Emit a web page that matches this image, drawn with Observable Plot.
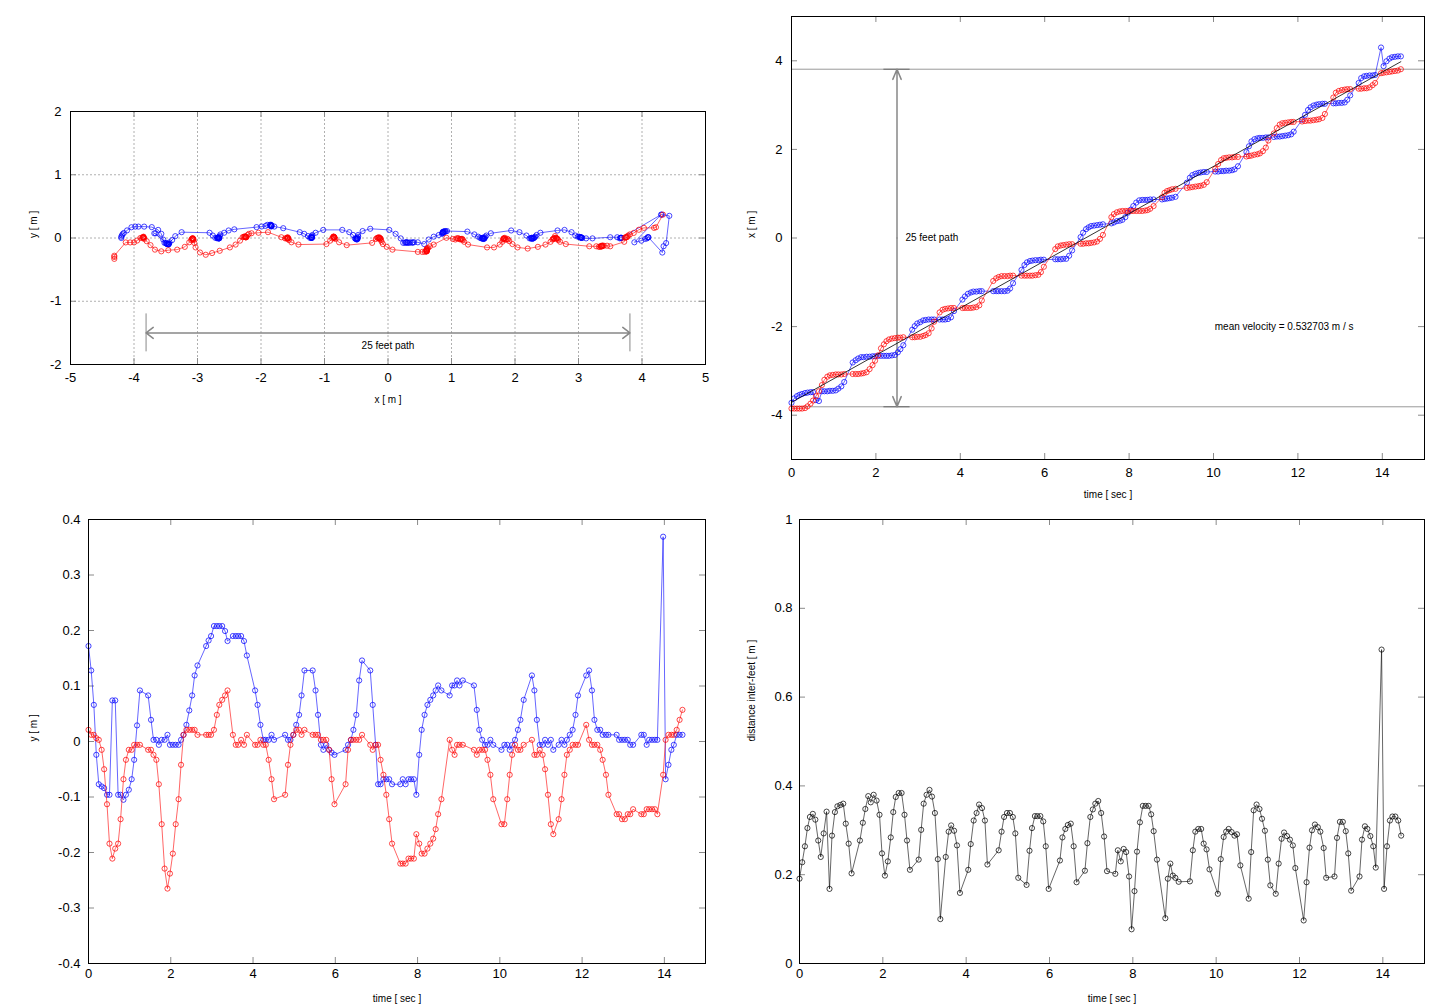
<!DOCTYPE html>
<html><head><meta charset="utf-8">
<script src="https://cdn.jsdelivr.net/npm/d3@7"></script>
<script src="https://cdn.jsdelivr.net/npm/@observablehq/plot@0.6"></script>
<style>
body{margin:0;background:#fff;}
#root{position:relative;width:1440px;height:1008px;overflow:hidden;background:#fff;}
#root svg{position:absolute;overflow:visible;}
</style></head><body><div id="root"></div>
<script>
// ---- frame times [sec] ----
const T = [0.00,0.065,0.13,0.19,0.25,0.32,0.38,0.45,0.51,0.58,0.65,0.72,0.78,0.85,0.91,0.98,1.05,1.11,1.18,1.25,
1.45,1.52,1.58,1.65,1.71,1.78,1.85,1.92,1.98,2.05,2.12,2.19,2.25,2.31,2.38,2.45,2.52,2.58,2.65,
2.86,2.92,2.98,3.05,3.12,3.18,3.25,3.32,3.38,
3.51,3.58,3.64,3.71,3.78,3.85,
4.05,4.11,4.18,4.25,4.31,4.38,4.45,4.51,
4.78,4.85,4.91,4.98,5.05,5.12,5.18,5.25,
5.45,5.52,5.58,5.65,5.71,5.78,5.85,5.91,5.98,
6.25,6.31,6.38,6.44,6.51,6.58,6.65,
6.85,6.91,6.98,7.04,7.10,7.17,7.24,7.31,7.38,
7.58,7.64,7.71,7.78,7.84,7.91,7.97,8.04,8.10,8.17,8.24,8.31,8.38,8.44,8.50,8.58,
8.78,8.84,8.90,8.96,9.02,9.10,
9.37,9.44,9.50,9.57,9.64,9.70,9.77,9.84,
10.04,10.11,10.18,10.24,10.30,10.37,10.44,10.50,10.58,
10.78,10.84,10.90,10.97,11.04,11.10,11.17,11.24,11.30,
11.43,11.50,11.57,11.63,11.70,11.77,11.84,11.90,
12.10,12.17,12.24,12.30,12.37,12.44,12.50,12.58,12.64,
12.84,12.90,12.97,13.04,13.11,13.17,13.24,
13.44,13.50,13.57,13.63,13.70,13.77,13.83,
13.97,14.03,14.10,14.17,14.23,14.30,14.37,14.44];

// ---- x position [m] of each foot ----
const xBlue = [-3.72,-3.62,-3.57,-3.54,-3.52,-3.50,-3.49,-3.48,-3.48,-3.66,-3.68,-3.46,-3.46,-3.46,-3.45,-3.45,-3.44,-3.40,-3.35,-3.25,
-2.81,-2.76,-2.72,-2.69,-2.69,-2.68,-2.68,-2.67,-2.67,-2.66,-2.66,-2.66,-2.66,-2.66,-2.65,-2.64,-2.58,-2.51,-2.42,
-2.07,-1.99,-1.93,-1.90,-1.86,-1.85,-1.84,-1.84,-1.84,
-1.84,-1.84,-1.84,-1.83,-1.79,-1.65,
-1.39,-1.32,-1.26,-1.23,-1.21,-1.21,-1.20,-1.20,
-1.20,-1.20,-1.20,-1.20,-1.20,-1.19,-1.14,-1.02,
-0.72,-0.61,-0.55,-0.52,-0.51,-0.50,-0.50,-0.49,-0.49,
-0.48,-0.48,-0.48,-0.47,-0.47,-0.40,-0.28,
0.02,0.12,0.20,0.24,0.27,0.28,0.29,0.30,0.31,
0.33,0.35,0.38,0.39,0.41,0.47,0.57,0.64,0.72,0.80,0.85,0.86,0.86,0.86,0.87,0.87,
0.87,0.88,0.89,0.90,0.91,0.93,
1.25,1.36,1.42,1.45,1.47,1.48,1.49,1.49,
1.50,1.50,1.51,1.51,1.52,1.52,1.53,1.55,1.62,
1.94,2.07,2.18,2.23,2.25,2.26,2.26,2.27,2.27,
2.28,2.29,2.29,2.30,2.31,2.32,2.34,2.40,
2.67,2.78,2.89,2.95,2.99,3.01,3.02,3.03,3.03,
3.04,3.04,3.05,3.05,3.06,3.12,3.22,
3.50,3.61,3.65,3.66,3.67,3.67,3.68,
4.30,3.88,3.99,4.05,4.08,4.09,4.10,4.10];
const xRed = [-3.85,-3.85,-3.85,-3.85,-3.85,-3.84,-3.80,-3.74,-3.67,-3.57,-3.46,-3.32,-3.20,-3.13,-3.10,-3.09,-3.08,-3.08,-3.08,-3.07,
-3.07,-3.07,-3.07,-3.06,-3.05,-3.03,-2.96,-2.87,-2.77,-2.65,-2.49,-2.40,-2.33,-2.29,-2.27,-2.26,-2.25,-2.25,-2.24,
-2.24,-2.24,-2.23,-2.23,-2.21,-2.19,-2.15,-2.04,-1.89,
-1.68,-1.62,-1.60,-1.59,-1.58,-1.58,
-1.58,-1.58,-1.58,-1.58,-1.57,-1.56,-1.52,-1.41,
-0.97,-0.91,-0.88,-0.86,-0.86,-0.86,-0.85,-0.85,
-0.85,-0.85,-0.85,-0.85,-0.85,-0.84,-0.83,-0.77,-0.65,
-0.25,-0.19,-0.17,-0.16,-0.15,-0.14,-0.14,
-0.13,-0.13,-0.12,-0.12,-0.11,-0.10,-0.08,-0.02,0.07,
0.47,0.54,0.58,0.60,0.61,0.61,0.61,0.61,0.61,0.61,0.61,0.61,0.62,0.63,0.66,0.72,
0.92,1.02,1.06,1.08,1.10,1.11,
1.13,1.14,1.15,1.16,1.17,1.18,1.20,1.26,
1.56,1.67,1.76,1.80,1.81,1.82,1.82,1.83,1.83,
1.84,1.85,1.86,1.88,1.89,1.91,1.96,2.04,2.20,
2.36,2.48,2.56,2.59,2.60,2.61,2.62,2.62,
2.63,2.64,2.65,2.65,2.66,2.67,2.68,2.71,2.80,
3.17,3.28,3.32,3.34,3.35,3.36,3.36,
3.37,3.37,3.38,3.38,3.40,3.45,3.50,
3.72,3.73,3.74,3.75,3.76,3.77,3.78,3.81];

// ---- y position [m] of each foot ----
const yBlue = [0.172,0.128,0.066,-0.024,-0.077,-0.081,-0.084,-0.096,-0.096,0.074,0.074,-0.096,-0.096,-0.105,-0.096,-0.087,-0.068,-0.033,0.029,0.092,
0.083,0.039,0.003,0.003,-0.006,0.003,0.003,0.012,-0.006,-0.006,-0.006,-0.006,0.003,0.012,0.030,0.056,0.083,0.119,0.137,
0.172,0.182,0.190,0.208,0.208,0.208,0.208,0.199,0.181,
0.190,0.190,0.190,0.190,0.181,0.155,
0.092,0.066,0.030,0.003,0.003,0.003,0.012,0.003,
0.012,0.003,0.003,0.012,0.030,0.048,0.083,0.128,
0.128,0.092,0.048,-0.006,-0.015,-0.006,-0.015,-0.020,-0.024,
-0.015,-0.006,0.003,0.021,0.048,0.110,0.146,
0.128,0.066,-0.006,-0.077,-0.077,-0.068,-0.068,-0.068,-0.077,
-0.077,-0.068,-0.077,-0.068,-0.068,-0.068,-0.096,-0.024,0.021,0.048,0.066,0.075,0.083,0.092,0.101,0.092,
0.083,0.101,0.101,0.110,0.101,0.110,
0.101,0.057,0.021,0.003,-0.006,-0.006,0.003,-0.006,
-0.015,-0.006,-0.006,-0.015,-0.006,0.003,0.021,0.039,0.075,
0.119,0.092,0.039,-0.006,-0.006,0.003,-0.006,0.003,-0.015,
-0.006,0.003,-0.006,0.003,0.012,0.021,0.048,0.083,
0.119,0.128,0.092,0.039,0.021,0.021,0.012,0.012,0.012,
0.012,0.003,0.003,0.003,0.003,-0.006,-0.006,
0.012,0.012,-0.006,0.003,0.003,0.003,0.003,
0.369,-0.068,-0.042,-0.015,-0.006,0.012,0.012,0.012];
const yRed = [0.021,0.012,0.012,0.006,0.003,-0.015,-0.050,-0.113,-0.184,-0.211,-0.193,-0.184,-0.140,-0.068,-0.033,-0.015,-0.015,-0.006,-0.006,-0.006,
-0.015,-0.015,-0.024,-0.033,-0.077,-0.149,-0.229,-0.265,-0.238,-0.202,-0.149,-0.104,-0.042,0.012,0.021,0.021,0.021,0.021,0.012,
0.012,0.012,0.012,0.021,0.048,0.066,0.075,0.083,0.092,
0.012,-0.006,-0.006,0.003,-0.006,0.012,
-0.006,-0.006,0.003,-0.006,-0.006,-0.033,-0.068,-0.104,
-0.096,-0.042,-0.006,0.012,0.021,0.021,0.012,0.021,
0.012,0.012,0.012,0.003,0.003,0.003,-0.015,-0.068,-0.113,
-0.077,-0.015,0.003,0.003,0.003,0.003,0.012,
-0.006,-0.015,-0.006,-0.006,-0.033,-0.060,-0.096,-0.140,-0.184,
-0.220,-0.220,-0.220,-0.211,-0.211,-0.211,-0.167,-0.184,-0.202,-0.202,-0.193,-0.184,-0.175,-0.158,-0.131,-0.104,
0.003,-0.015,-0.024,-0.006,-0.006,-0.006,
-0.015,-0.024,-0.015,-0.015,-0.015,-0.033,-0.060,-0.104,
-0.149,-0.149,-0.104,-0.060,-0.024,-0.006,-0.015,-0.015,-0.006,
0.003,-0.024,-0.024,-0.015,-0.024,-0.050,-0.096,-0.149,-0.167,
-0.140,-0.104,-0.060,-0.024,-0.015,-0.006,-0.006,-0.006,
0.030,0.003,-0.006,-0.006,-0.006,-0.015,-0.033,-0.060,-0.096,
-0.131,-0.131,-0.140,-0.140,-0.131,-0.131,-0.122,
-0.131,-0.131,-0.122,-0.122,-0.122,-0.122,-0.131,
-0.060,0.003,0.012,0.012,0.012,0.021,0.039,0.057];

// ---- distance between feet [m] ----
const dist = [0.191,0.228,0.264,0.305,0.330,0.337,0.324,0.277,0.240,0.293,0.342,0.168,0.288,0.341,0.354,0.357,0.360,0.315,0.270,0.203,
0.277,0.317,0.348,0.377,0.363,0.380,0.367,0.335,0.248,0.198,0.230,0.284,0.341,0.375,0.384,0.384,0.335,0.277,0.211,
0.234,0.301,0.360,0.380,0.391,0.376,0.339,0.235,0.100,
0.240,0.297,0.311,0.299,0.266,0.159,
0.211,0.269,0.322,0.339,0.358,0.350,0.322,0.223,
0.255,0.297,0.330,0.339,0.339,0.330,0.293,0.193,
0.177,0.254,0.305,0.332,0.332,0.332,0.320,0.264,0.168,
0.232,0.284,0.303,0.312,0.315,0.264,0.183,
0.209,0.271,0.330,0.347,0.360,0.366,0.339,0.286,0.208,
0.202,0.255,0.230,0.258,0.251,0.196,0.077,0.163,0.252,0.318,0.355,0.355,0.355,0.336,0.298,0.234,
0.102,0.191,0.225,0.198,0.193,0.184,
0.185,0.255,0.297,0.303,0.303,0.270,0.257,0.212,
0.157,0.235,0.285,0.297,0.303,0.296,0.288,0.291,0.221,
0.146,0.251,0.345,0.358,0.348,0.326,0.299,0.234,0.176,
0.157,0.225,0.281,0.295,0.287,0.279,0.266,0.215,
0.097,0.183,0.261,0.300,0.313,0.307,0.297,0.260,0.193,
0.196,0.283,0.319,0.319,0.298,0.248,0.164,
0.196,0.279,0.309,0.303,0.287,0.264,0.216,
0.707,0.168,0.264,0.322,0.331,0.331,0.322,0.288];

// ---- extra path points (before / after the timed frames) in the x-y view ----
const preBlueX = [-4.20,-4.20,-4.19,-4.18,-4.16,-4.11,-4.04,-3.98,-3.93,-3.84];
const preBlueY = [0.000,0.020,0.040,0.060,0.080,0.120,0.170,0.180,0.180,0.180];
const postBlueX = [4.32,4.34,4.38,4.43,4.31];
const postBlueY = [-0.23,-0.13,-0.08,0.35,0.37];
const preRedX = [-4.31,-4.31,-4.31,-4.13,-4.06,-4.00,-3.95,-3.90,-3.87,-3.86];
const preRedY = [-0.33,-0.30,-0.28,-0.07,-0.07,-0.07,-0.04,0.00,0.005,0.01];
const postRedX = [3.87,3.95,4.03,4.19,4.22,4.33];
const postRedY = [0.08,0.13,0.16,0.16,0.17,0.37];

// ---- annotations ----
const halfPath = 3.81;           // 25 feet = 7.62 m
const meanLineT = [0, 14.44];
const meanLineX = [-3.71, 3.98];
const velocityLabel = "mean velocity = 0.532703 m / s";

// ---- ticks ----
const ticksXY_x = [-5,-4,-3,-2,-1,0,1,2,3,4,5];
const ticksXY_y = [-2,-1,0,1,2];
const ticksT = [0,2,4,6,8,10,12,14];
const ticksXpos = [-4,-2,0,2,4];
const ticksYpos = [-0.4,-0.3,-0.2,-0.1,0,0.1,0.2,0.3,0.4];
const ticksDist = [0,0.2,0.4,0.6,0.8,1];

// ---- build tables ----
const frames = T.map((t, i) => ({t, xb: xBlue[i], xr: xRed[i], yb: yBlue[i], yr: yRed[i], d: dist[i]}));
const pathBlue = [
  ...preBlueX.map((x, i) => ({x, y: preBlueY[i]})),
  ...frames.map(f => ({x: f.xb, y: f.yb})),
  ...postBlueX.map((x, i) => ({x, y: postBlueY[i]}))
];
const pathRed = [
  ...preRedX.map((x, i) => ({x, y: preRedY[i]})),
  ...frames.map(f => ({x: f.xr, y: f.yr})),
  ...postRedX.map((x, i) => ({x, y: postRedY[i]}))
];
const meanLine = meanLineT.map((t, i) => ({t, x: meanLineX[i]}));

const FONT = "'Liberation Sans', Arial, Helvetica, sans-serif";
const BLUE = "#0000ff", RED = "#ff0000", TICK = "#8a8a8a";
const fmt = d => String(d);
const root = document.getElementById("root");

function inward(xt, yt, W, H) {
  return [
    Plot.ruleX(xt, {insetTop: H - 6, stroke: TICK}),
    Plot.ruleX(xt, {insetBottom: H - 6, stroke: TICK}),
    Plot.ruleY(yt, {insetRight: W - 6, stroke: TICK}),
    Plot.ruleY(yt, {insetLeft: W - 6, stroke: TICK})
  ];
}
function series(data, xk, yk, color) {
  return [
    Plot.line(data, {x: xk, y: yk, stroke: color, strokeOpacity: 0.6, strokeWidth: 1}),
    Plot.dot(data, {x: xk, y: yk, r: 2.6, stroke: color, strokeOpacity: 0.8, strokeWidth: 0.9, fill: "none"})
  ];
}
function panel(o) {
  const W = o.width - o.mL - o.mR, H = o.height - o.mT - o.mB;
  const svg = Plot.plot({
    width: o.width, height: o.height,
    marginLeft: o.mL, marginRight: o.mR, marginTop: o.mT, marginBottom: o.mB,
    x: {domain: o.xd, label: null},
    y: {domain: o.yd, label: null},
    style: {fontFamily: FONT, fontSize: "13px", background: "transparent", color: "#000", overflow: "visible"},
    marks: [
      ...(o.under || []),
      ...inward(o.xt, o.yt, W, H),
      ...o.marks,
      Plot.frame({stroke: "#000", strokeWidth: 1}),
      Plot.axisX(o.xt, {anchor: "bottom", tickSize: 0, tickPadding: o.xPad, tickFormat: fmt, label: null}),
      Plot.axisY(o.yt, {anchor: "left", tickSize: 0, tickPadding: o.yPad, tickFormat: fmt, label: null}),
      Plot.text([o.xLabel], {text: d => d, frameAnchor: "bottom", dy: o.xLabDy, fontSize: 10}),
      Plot.text([o.yLabel], {text: d => d, frameAnchor: "left", dx: o.yLabDx, rotate: -90, fontSize: 10})
    ]
  });
  svg.style.left = o.left + "px";
  svg.style.top = o.top + "px";
  root.appendChild(svg);
}

// Top-left: y vs x path
panel({
  left: 0, top: 0, width: 720, height: 504, mL: 70, mR: 15, mT: 111, mB: 140,
  xd: [-5, 5], yd: [-2, 2], xt: ticksXY_x, yt: ticksXY_y, xPad: 8, yPad: 9,
  xLabel: "x [ m ]", yLabel: "y [ m ]", xLabDy: 38, yLabDx: -37,
  under: [
    Plot.gridX(ticksXY_x.slice(1, -1), {stroke: "#b0b0b0", strokeOpacity: 1, strokeDasharray: "2,2"}),
    Plot.gridY(ticksXY_y.slice(1, -1), {stroke: "#b0b0b0", strokeOpacity: 1, strokeDasharray: "2,2"})
  ],
  marks: [
    Plot.ruleX([-halfPath, halfPath], {y1: -1.2, y2: -1.8, stroke: "#888"}),
    Plot.arrow([{x1: 0, x2: -halfPath}, {x1: 0, x2: halfPath}], {x1: "x1", x2: "x2", y1: () => -1.5, y2: () => -1.5, stroke: "#888", headLength: 9, headAngle: 75}),
    Plot.text(["25 feet path"], {text: d => d, x: () => 0, y: () => -1.7, fontSize: 10}),
    ...series(pathBlue, "x", "y", BLUE),
    ...series(pathRed, "x", "y", RED)
  ]
});

// Top-right: x vs time
panel({
  left: 720, top: 0, width: 720, height: 504, mL: 71, mR: 16, mT: 16, mB: 45,
  xd: [0, 15], yd: [-5, 5], xt: ticksT, yt: ticksXpos, xPad: 8, yPad: 9,
  xLabel: "time [ sec ]", yLabel: "x [ m ]", xLabDy: 38, yLabDx: -40,
  marks: [
    Plot.ruleY([-halfPath, halfPath], {stroke: "#9a9a9a"}),
    Plot.ruleY([-halfPath, halfPath], {x1: 2.19, x2: 2.81, stroke: "#666"}),
    Plot.arrow([{y1: 0, y2: halfPath}, {y1: 0, y2: -halfPath}], {x1: () => 2.5, x2: () => 2.5, y1: "y1", y2: "y2", stroke: "#888", headLength: 11, headAngle: 45}),
    Plot.text(["25 feet path"], {text: d => d, x: () => 2.7, y: () => 0, textAnchor: "start", fontSize: 10}),
    Plot.text([velocityLabel], {text: d => d, x: () => 10.03, y: () => -2.0, textAnchor: "start", fontSize: 10}),
    ...series(frames, "t", "xb", BLUE),
    ...series(frames, "t", "xr", RED),
    Plot.line(meanLine, {x: "t", y: "x", stroke: "#000", strokeOpacity: 0.8, strokeWidth: 1})
  ]
});

// Bottom-left: y vs time
panel({
  left: 0, top: 504, width: 720, height: 504, mL: 88, mR: 15, mT: 15, mB: 45,
  xd: [0, 15], yd: [-0.4, 0.4], xt: ticksT, yt: ticksYpos, xPad: 5, yPad: 8,
  xLabel: "time [ sec ]", yLabel: "y [ m ]", xLabDy: 38, yLabDx: -55,
  marks: [
    ...series(frames, "t", "yb", BLUE),
    ...series(frames, "t", "yr", RED)
  ]
});

// Bottom-right: inter-feet distance vs time
panel({
  left: 720, top: 504, width: 720, height: 504, mL: 79, mR: 16, mT: 15, mB: 45,
  xd: [0, 15], yd: [0, 1], xt: ticksT, yt: ticksDist, xPad: 5, yPad: 7,
  xLabel: "time [ sec ]", yLabel: "distance inter-feet [ m ]", xLabDy: 38, yLabDx: -48,
  marks: [
    ...series(frames, "t", "d", "#000")
  ]
});
</script>
</body></html>
